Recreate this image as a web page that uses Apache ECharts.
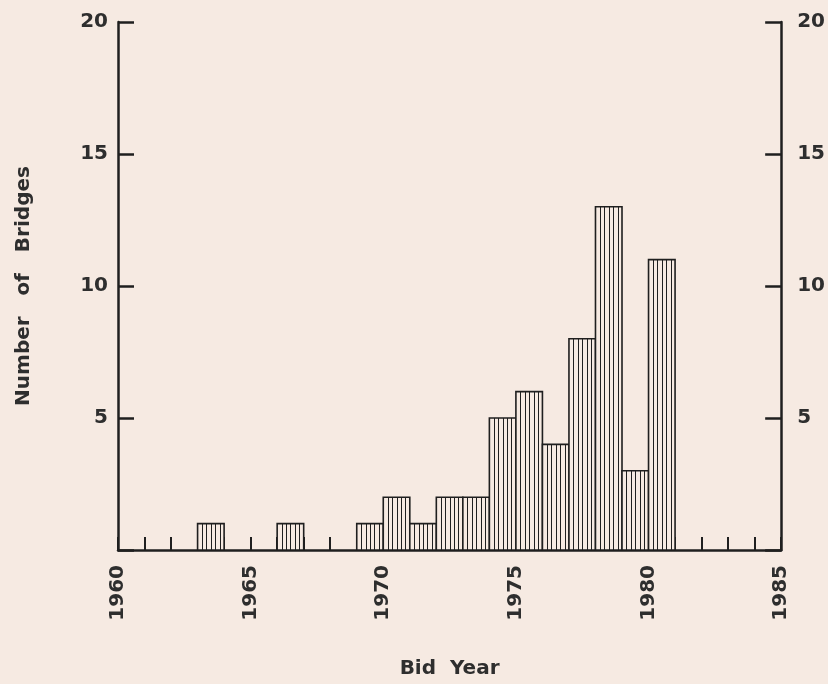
<!DOCTYPE html>
<html>
<head>
<meta charset="utf-8">
<script src="https://cdn.jsdelivr.net/npm/echarts@6/dist/echarts.min.js"></script>
<style>
  html, body { margin: 0; padding: 0; background: #f6eae2; }
  #chart { width: 828px; height: 684px; }
</style>
</head>
<body>
<div id="chart"></div>
<script>
// Histogram bins: start year of each one-year bin, and the number of bridges
const binStartYears = [1963, 1966, 1969, 1970, 1971, 1972, 1973, 1974, 1975, 1976, 1977, 1978, 1979, 1980];
const bridgeCounts  = [1,    1,    1,    2,    1,    2,    2,    5,    6,    4,    8,    13,   3,    11];
const xLabelYears = [1960, 1965, 1970, 1975, 1980, 1985];
const yTickLabels = [5, 10, 15, 20];

const BG = '#f6eae2';
const INK = '#1f1f1f';
const TXT = '#2e2e2e';
const FONT = 'DejaVu Sans';

const data = binStartYears.map((y, i) => [y, bridgeCounts[i]]);

const chart = echarts.init(document.getElementById('chart'), null, { renderer: 'canvas' });

const yAxisCommon = {
  type: 'value', min: 0, max: 20, interval: 5,
  axisLine: { show: true, lineStyle: { color: INK, width: 2.5 } },
  axisTick: { show: true, inside: true, length: 16, lineStyle: { color: INK, width: 2.5 } },
  splitLine: { show: false },
  axisLabel: {
    color: TXT, fontFamily: FONT, fontWeight: 'bold', fontSize: 20,
    formatter: v => (yTickLabels.indexOf(v) >= 0 ? String(v) : '')
  }
};

chart.setOption({
  backgroundColor: BG,
  animation: false,
  grid: { left: 118, right: 46, top: 22, bottom: 131 },
  xAxis: {
    type: 'value', min: 1960, max: 1985, interval: 1,
    name: 'Bid  Year', nameLocation: 'middle', nameGap: 109,
    nameTextStyle: { color: TXT, fontFamily: FONT, fontWeight: 'bold', fontSize: 20 },
    axisLine: { show: true, lineStyle: { color: INK, width: 2.5 } },
    axisTick: { show: true, inside: true, length: 13, lineStyle: { color: INK, width: 2 } },
    splitLine: { show: false },
    axisLabel: {
      rotate: 90, margin: 15, color: TXT, fontFamily: FONT, fontWeight: 'bold', fontSize: 20,
      formatter: v => (xLabelYears.indexOf(v) >= 0 ? String(v) : '')
    }
  },
  yAxis: [
    Object.assign({}, yAxisCommon, {
      position: 'left',
      name: 'Number   of   Bridges', nameLocation: 'middle', nameGap: 84,
      nameTextStyle: { color: TXT, fontFamily: FONT, fontWeight: 'bold', fontSize: 20 },
      axisLabel: Object.assign({}, yAxisCommon.axisLabel, { margin: 10 })
    }),
    Object.assign({}, yAxisCommon, {
      position: 'right',
      axisLabel: Object.assign({}, yAxisCommon.axisLabel, { margin: 16 })
    })
  ],
  series: [{
    type: 'custom',
    z: 3,
    data: data,
    encode: { x: 0, y: 1 },
    renderItem: function (params, api) {
      const start = api.value(0);
      const val = api.value(1);
      const p0 = api.coord([start, 0]);
      const p1 = api.coord([start + 1, val]);
      const x = p0[0], y = p1[1];
      const w = p1[0] - p0[0], h = p0[1] - p1[1];
      const children = [{
        type: 'rect',
        shape: { x: x, y: y, width: w, height: h },
        style: { fill: BG, stroke: INK, lineWidth: 1.6 }
      }];
      const n = 6;
      for (let i = 1; i < n; i++) {
        const lx = Math.round(x + w * i / n) + 0.5;
        children.push({
          type: 'line',
          shape: { x1: lx, y1: y, x2: lx, y2: p0[1] },
          style: { stroke: INK, lineWidth: 1 }
        });
      }
      return { type: 'group', children: children };
    }
  }]
});
</script>
</body>
</html>
